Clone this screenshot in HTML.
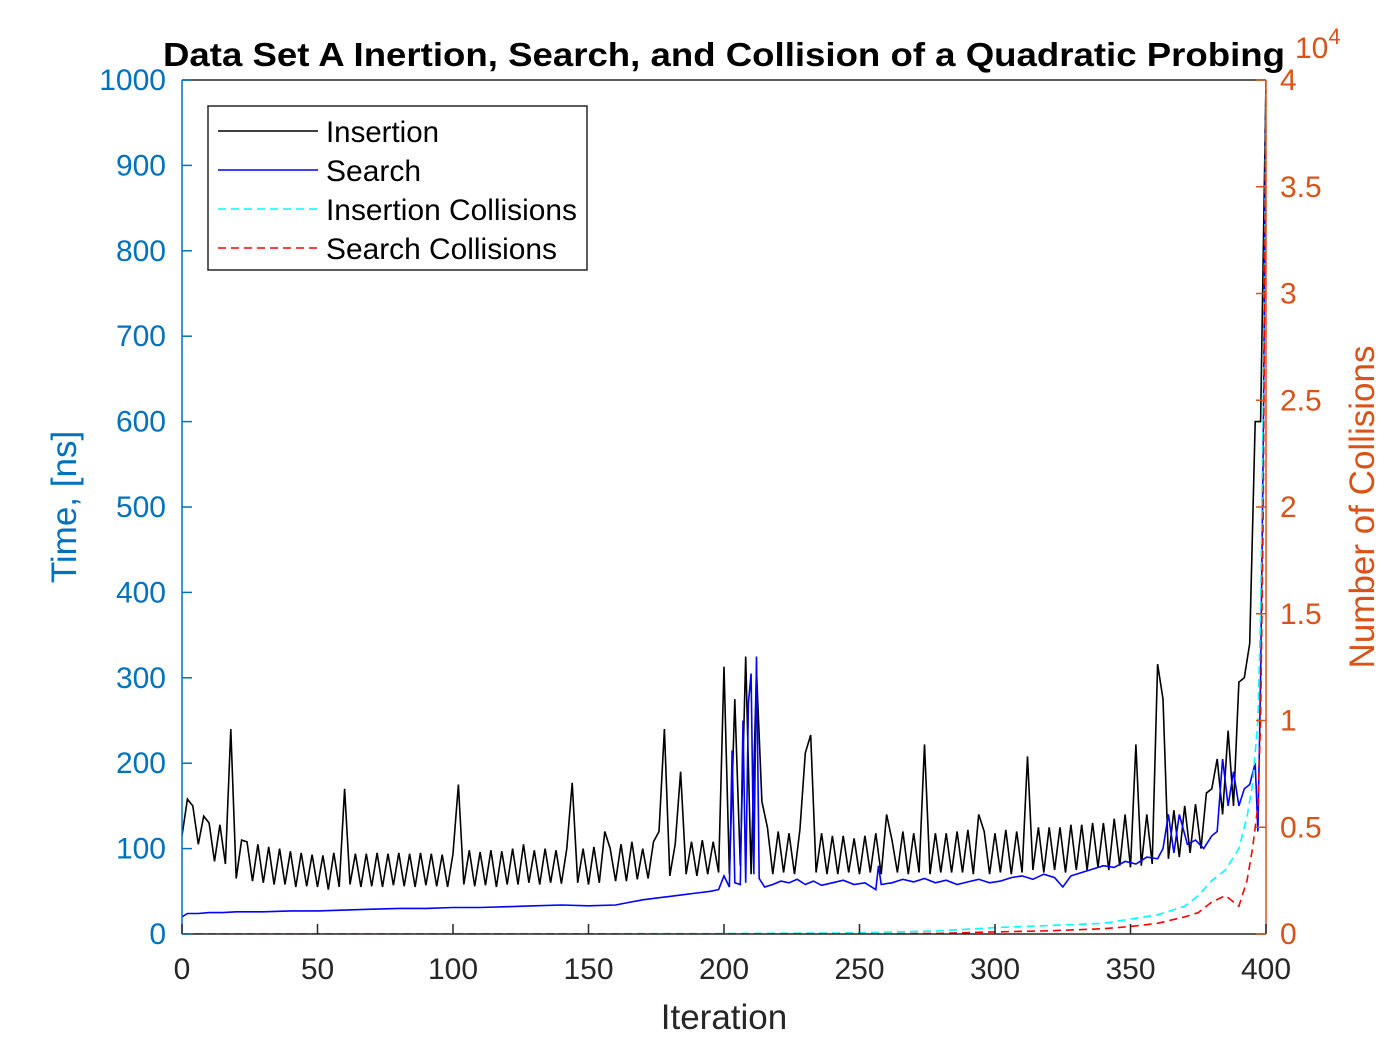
<!DOCTYPE html>
<html><head><meta charset="utf-8"><style>body{margin:0;background:#fff}svg{font-family:"Liberation Sans",Arial,sans-serif}</style></head>
<body>
<svg id="chart" width="1400" height="1050" xmlns="http://www.w3.org/2000/svg" style="position:absolute;left:0;top:0">
<rect width="1400" height="1050" fill="#fff"/>
<g id="plot"></g>
</svg>
<script>
const insStep = 2;
const insertion = [115,158,150,105,138,130,85,128,82,240,65,110,108,62,105,60,102,58,100,58,97,
55,95,56,93,55,92,52,95,55,170,58,94,55,94,56,95,55,94,57,95,
56,94,55,95,57,94,56,93,55,94,175,58,98,56,96,57,98,55,97,58,
100,58,105,60,98,58,100,60,98,59,100,177,60,100,58,102,60,120,100,62,
105,62,108,64,100,65,108,120,240,68,105,190,70,108,68,110,70,108,72,313,
70,275,80,325,70,308,155,125,70,120,72,118,70,122,212,233,72,118,70,115,
70,115,72,112,70,115,72,118,70,140,110,72,120,70,118,72,222,70,118,72,
118,72,120,72,122,70,140,120,70,118,72,122,70,120,72,208,75,125,72,125,
75,125,72,128,75,128,75,130,78,130,75,135,80,140,78,222,80,140,82,316,
275,88,145,90,150,95,152,100,165,170,205,140,238,150,295,300,340,600,600,1000];
const searchX = [0,2,6,10,15,20,30,40,50,60,70,80,90,100,110,120,130,140,150,160,165,170,175,180,185,190,195,198,200,202,203,204,206,207,208,209,210,211,212,213,215,218,221,224,227,230,233,236,240,244,248,252,256,257,258,262,266,270,274,278,282,286,290,294,298,302,306,310,314,318,322,325,328,332,336,340,344,348,352,356,360,362,364,366,368,371,374,377,380,382,384,386,388,390,392,394,396,397,398,399,400];
const searchY = [20,24,24,25,25,26,26,27,27,28,29,30,30,31,31,32,33,34,33,34,37,40,42,44,46,48,50,52,68,55,215,60,58,250,60,270,305,70,325,65,55,58,62,60,64,58,62,57,60,63,58,60,52,80,58,60,64,61,65,60,63,58,61,64,60,62,66,68,64,70,66,55,68,72,76,80,78,85,82,90,88,100,140,95,140,105,110,100,115,120,205,150,190,150,170,175,200,120,300,580,1000];
const collX = [0,100,200,250,280,300,320,340,350,360,370,375,380,385,390,393,395,397,398,399,400];
const insColl = [0,0,20,50,150,300,400,500,700,900,1300,1800,2500,3000,4000,5500,7000,10000,15000,25000,40000];
const searchColl = [0,0,0,0,30,100,150,250,350,500,800,1000,1500,1800,1300,2500,4000,6000,10000,20000,40000];
const xTicks = [0,50,100,150,200,250,300,350,400];
const yTicks = [0,100,200,300,400,500,600,700,800,900,1000];
const y2Ticks = [0,0.5,1,1.5,2,2.5,3,3.5,4];

const L=182,R=1266,T=80,B=934;
const X=v=>L+(v/400)*(R-L);
const Y=v=>B-(v/1000)*(B-T);
const Y2=v=>B-(v/40000)*(B-T);
const NS='http://www.w3.org/2000/svg';
const g=document.getElementById('plot');
function mk(tag,attrs,parent){const e=document.createElementNS(NS,tag);for(const k in attrs)e.setAttribute(k,attrs[k]);(parent||g).appendChild(e);return e;}
const cp=mk('clipPath',{id:'cp'});mk('rect',{x:L,y:T-2,width:R-L,height:B-T+2},cp);
const lines=mk('g',{'clip-path':'url(#cp)'});
function line2(xs,ys,fy,color,dash,name){
  const p=mk('polyline',{points:xs.map((x,i)=>X(x).toFixed(1)+','+fy(ys[i]).toFixed(1)).join(' '),fill:'none',stroke:color,'stroke-width':1.6,'stroke-dasharray':dash||'none'},lines);
  
  
}
line2(insertion.map((_,i)=>i*insStep),insertion,Y,'#000',null,'insertion-line');
line2(searchX,searchY,Y,'#0000ff',null,'search-line');
line2(collX,insColl,Y2,'#00ffff','8,5','insertion-collisions-line');
line2(collX,searchColl,Y2,'#ff0000','8,5','search-collisions-line');

mk('line',{x1:L,y1:B,x2:R,y2:B,stroke:'#262626','stroke-width':1.5});
mk('line',{x1:L,y1:T,x2:R,y2:T,stroke:'#262626','stroke-width':1.5});
mk('line',{x1:L,y1:T,x2:L,y2:B,stroke:'#0072BD','stroke-width':1.5});
mk('line',{x1:R,y1:T,x2:R,y2:B,stroke:'#D95319','stroke-width':1.5});
xTicks.forEach(v=>{
  mk('line',{x1:X(v),y1:B,x2:X(v),y2:B-10,stroke:'#262626','stroke-width':1.5});
  const t=mk('text',{x:X(v),y:B+45,'font-size':30,fill:'#262626','text-anchor':'middle'});t.textContent=v;
  
  
});
yTicks.forEach(v=>{
  mk('line',{x1:L,y1:Y(v),x2:L+10,y2:Y(v),stroke:'#0072BD','stroke-width':1.5});
  const t=mk('text',{x:L-16,y:Y(v)+10,'font-size':30,fill:'#0072BD','text-anchor':'end'});t.textContent=v;
  
  
});
y2Ticks.forEach(v=>{
  mk('line',{x1:R,y1:Y2(v*10000),x2:R-10,y2:Y2(v*10000),stroke:'#D95319','stroke-width':1.5});
  const t=mk('text',{x:R+14,y:Y2(v*10000)+10,'font-size':30,fill:'#D95319'});t.textContent=v;
  
  
});
</script>
<svg style="position:absolute;left:0;top:0" width="1400" height="1050" xmlns="http://www.w3.org/2000/svg">
<text x="724" y="66" font-size="33" font-weight="bold" text-anchor="middle" textLength="1122" lengthAdjust="spacingAndGlyphs" fill="#000">Data Set A Inertion, Search, and Collision of a Quadratic Probing</text>
<text x="1295" y="58" font-size="30" fill="#D95319">10<tspan dy="-14" font-size="22">4</tspan></text>
<text x="724" y="1029" font-size="35" text-anchor="middle" fill="#262626">Iteration</text>
<text transform="translate(76,507) rotate(-90)" font-size="35" text-anchor="middle" fill="#0072BD">Time, [ns]</text>
<text transform="translate(1374,507) rotate(-90)" font-size="35" text-anchor="middle" fill="#D95319">Number of Collisions</text>
<g>
<rect x="208" y="106" width="379" height="164" fill="#fff" stroke="#262626" stroke-width="1.5"/>
<line x1="218" y1="131" x2="318" y2="131" stroke="#000" stroke-width="1.5"/>
<text x="326" y="142" font-size="30" textLength="113" lengthAdjust="spacingAndGlyphs">Insertion</text>
<line x1="218" y1="170" x2="318" y2="170" stroke="#0000ff" stroke-width="1.5"/>
<text x="326" y="181" font-size="30">Search</text>
<line x1="218" y1="209" x2="318" y2="209" stroke="#00ffff" stroke-width="1.5" stroke-dasharray="8,5"/>
<text x="326" y="220" font-size="30" textLength="251" lengthAdjust="spacingAndGlyphs">Insertion Collisions</text>
<line x1="218" y1="248" x2="318" y2="248" stroke="#ff0000" stroke-width="1.5" stroke-dasharray="8,5"/>
<text x="326" y="259" font-size="30" textLength="231" lengthAdjust="spacingAndGlyphs">Search Collisions</text>
</g>
</svg>
</body></html>
